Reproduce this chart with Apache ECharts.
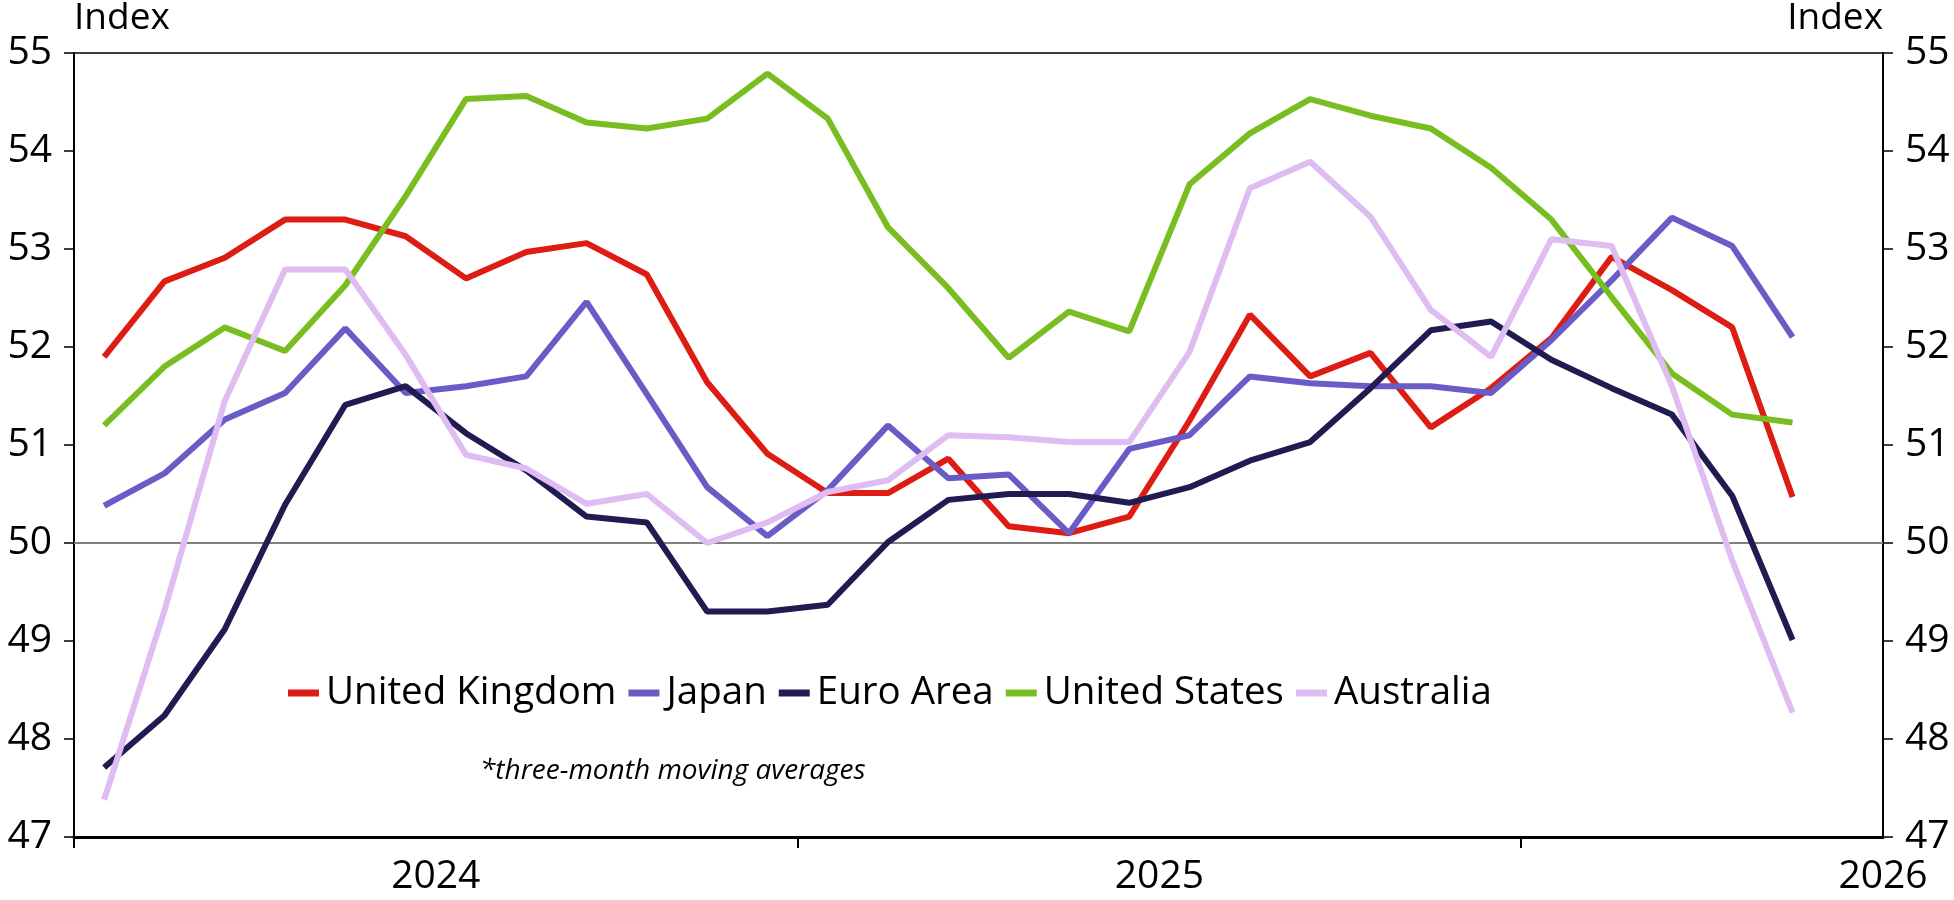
<!DOCTYPE html>
<html>
<head>
<meta charset="utf-8">
<title>Manufacturing PMI</title>
<script src="https://cdn.jsdelivr.net/npm/echarts@6.0.0/dist/echarts.min.js"></script>
<style>
  html, body { margin: 0; padding: 0; background: #fff; }
  #chart { width: 1954px; height: 900px; }
</style>
</head>
<body>
<div id="chart"></div>
<script>
// monthly points, three-month moving averages
const months = [
  '2023-07', '2023-08', '2023-09', '2023-10', '2023-11', '2023-12',
  '2024-01', '2024-02', '2024-03', '2024-04', '2024-05', '2024-06',
  '2024-07', '2024-08', '2024-09', '2024-10', '2024-11', '2024-12',
  '2025-01', '2025-02', '2025-03', '2025-04', '2025-05', '2025-06',
  '2025-07', '2025-08', '2025-09', '2025-10', '2025-11'
];
const unitedKingdom = [
  51.90, 52.67, 52.91, 53.30, 53.30, 53.13, 52.70, 52.97, 53.06, 52.74,
  51.64, 50.91, 50.51, 50.51, 50.86, 50.17, 50.10, 50.27, 51.25, 52.33,
  51.70, 51.94, 51.18, 51.58, 52.09, 52.92, 52.58, 52.20, 50.47
];
const japan = [
  50.38, 50.71, 51.26, 51.53, 52.19, 51.53, 51.60, 51.70, 52.46, 51.52,
  50.57, 50.07, 50.54, 51.20, 50.66, 50.70, 50.10, 50.96, 51.10, 51.70,
  51.63, 51.60, 51.60, 51.53, 52.07, 52.68, 53.32, 53.03, 52.10
];
const euroArea = [
  47.71, 48.24, 49.12, 50.39, 51.41, 51.60, 51.12, 50.74, 50.27, 50.21,
  49.30, 49.30, 49.37, 50.01, 50.44, 50.50, 50.50, 50.41, 50.57, 50.84,
  51.03, 51.58, 52.17, 52.26, 51.87, 51.58, 51.31, 50.48, 49.01
];
const unitedStates = [
  51.20, 51.80, 52.20, 51.96, 52.63, 53.54, 54.53, 54.56, 54.29, 54.23,
  54.33, 54.79, 54.33, 53.22, 52.60, 51.89, 52.36, 52.16, 53.66, 54.18,
  54.53, 54.36, 54.23, 53.83, 53.30, 52.51, 51.73, 51.31, 51.23
];
const australia = [
  47.38, 49.31, 51.45, 52.79, 52.79, 51.92, 50.90, 50.76, 50.40, 50.50,
  50.00, 50.21, 50.52, 50.64, 51.10, 51.08, 51.03, 51.03, 51.95, 53.62,
  53.89, 53.33, 52.38, 51.90, 53.10, 53.03, 51.60, 49.82, 48.27
];

const yearLabels = ['2024', '2025', '2026'];   // shown at January
const tickMonths = ['2023-07', '2024-07', '2025-07'];
const axisStart = '2023-07';
const axisEnd = '2026-01';
const yTicks = [47, 48, 49, 50, 51, 52, 53, 54, 55];

const FONT = 'Open Sans';

// months since the axis start
function monthIndex(m) {
  const p = m.split('-').map(Number);
  const q = axisStart.split('-').map(Number);
  return (p[0] - q[0]) * 12 + (p[1] - q[1]);
}
// each point sits in the middle of its month
function toPoints(values) {
  return months.map((m, i) => [monthIndex(m) + 0.5, values[i]]);
}

const labelPos = yearLabels.map(y => monthIndex(y + '-01'));

const seriesDefs = [
  { name: 'United Kingdom', color: '#dd1c14', data: unitedKingdom },
  { name: 'Japan', color: '#6a5cc6', data: japan },
  { name: 'Euro Area', color: '#201b50', data: euroArea },
  { name: 'United States', color: '#78be20', data: unitedStates },
  { name: 'Australia', color: '#dfbcf2', data: australia }
];

const yAxisCommon = {
  type: 'value',
  min: yTicks[0],
  max: yTicks[yTicks.length - 1],
  interval: 1,
  axisLine: { show: true, lineStyle: { color: '#000', width: 2 } },
  axisTick: { show: true, length: 10, lineStyle: { color: '#000', width: 1.5 } },
  axisLabel: { color: '#000', fontSize: 39, fontFamily: FONT, margin: 22 },
  splitLine: { show: false },
  name: 'Index',
  nameLocation: 'end',
  nameGap: 35
};

let myChart = echarts.init(document.getElementById('chart'));
let option = {
  backgroundColor: '#fff',
  animation: false,
  grid: {
    left: 74, right: 71, top: 53, bottom: 63,
    containLabel: false,
    outerBoundsMode: 'none',
    show: true,
    borderColor: '#000',
    borderWidth: 1.5
  },
  legend: {
    left: 283,
    top: 668,
    itemWidth: 31,
    itemHeight: 7,
    itemGap: 12,
    icon: 'rect',
    textStyle: { color: '#000', fontSize: 38.5, fontFamily: FONT, lineHeight: 40, padding: [0, 0, 0, 2] },
    data: seriesDefs.map(s => s.name)
  },
  xAxis: {
    type: 'value',
    min: 0,
    max: monthIndex(axisEnd),
    axisLine: { show: true, onZero: false, lineStyle: { color: '#000', width: 3 } },
    axisTick: {
      show: true, length: 11,
      customValues: tickMonths.map(monthIndex),
      lineStyle: { color: '#000', width: 2 }
    },
    axisLabel: {
      color: '#000', fontSize: 39, fontFamily: FONT, margin: 20,
      customValues: labelPos,
      formatter: v => yearLabels[labelPos.indexOf(v)] || ''
    },
    splitLine: { show: false }
  },
  yAxis: [
    Object.assign({}, yAxisCommon, {
      position: 'left',
      nameTextStyle: { color: '#000', fontSize: 37, fontFamily: FONT, align: 'left', verticalAlign: 'middle' }
    }),
    Object.assign({}, yAxisCommon, {
      position: 'right',
      nameTextStyle: { color: '#000', fontSize: 37, fontFamily: FONT, align: 'right', verticalAlign: 'middle' }
    })
  ],
  graphic: [
    {
      type: 'text',
      left: 480,
      top: 757,
      style: {
        text: '*three-month moving averages',
        fill: '#000',
        font: 'italic 28px "' + FONT + '"'
      }
    }
  ],
  series: seriesDefs.map((s, i) => {
    const ser = {
      name: s.name,
      type: 'line',
      data: toPoints(s.data),
      symbol: 'none',
      lineStyle: { color: s.color, width: 6 },
      itemStyle: { color: s.color },
      z: 3 + i
    };
    if (i === 0) {
      // 50 = no-change line
      ser.markLine = {
        silent: true,
        symbol: 'none',
        label: { show: false },
        lineStyle: { color: '#808080', width: 2, type: 'solid' },
        data: [{ yAxis: 50 }]
      };
    }
    return ser;
  })
};
option && myChart.setOption(option);
</script>
</body>
</html>
